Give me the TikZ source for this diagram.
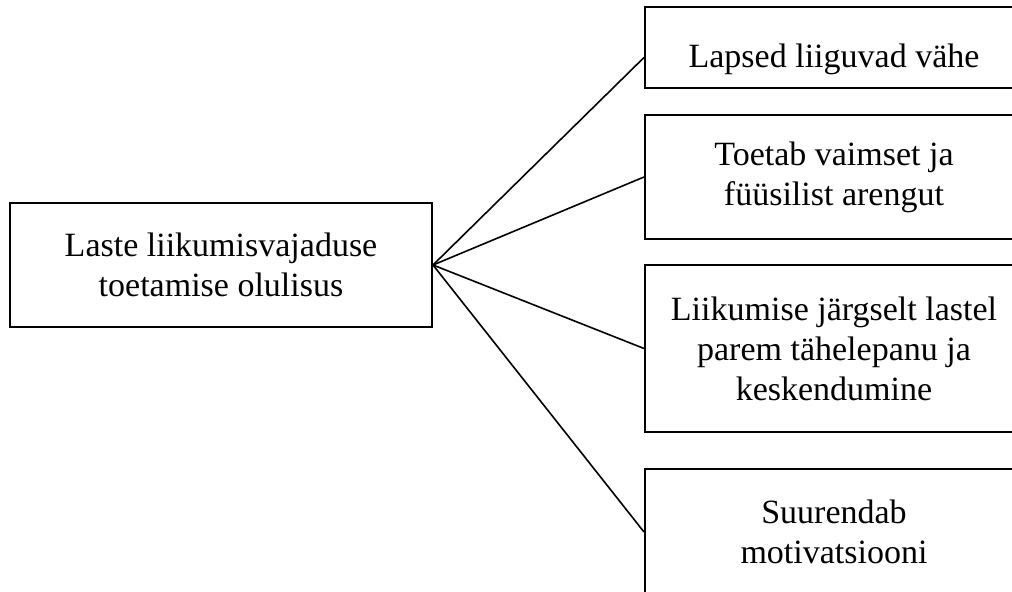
\documentclass[tikz,border=0pt]{standalone}
\usepackage{fontspec}
\setmainfont{Liberation Serif}
\usepackage{tikz}

\begin{document}
\begin{tikzpicture}[x=0.5pt, y=-0.5pt,
    box_node/.style={rectangle, draw, line width=1pt, inner sep=0pt, align=center,
        font=\fontsize{17pt}{20pt}\selectfont},
    link/.style={line width=0.8pt}]

    \useasboundingbox (0,0) rectangle (1012,592);
    \clip (0,0) rectangle (1012,592);

    \node[box_node, minimum width=211pt, minimum height=62pt] (main) at (221,265)
        {Laste liikumisvajaduse\\toetamise olulisus};
    \node[box_node, minimum width=189pt, minimum height=40.5pt,
        text height=24pt, text depth=4pt] (b1) at (834,47.5)
        {Lapsed liiguvad vähe};
    \node[box_node, minimum width=189pt, minimum height=62pt] (b2) at (834,177)
        {Toetab vaimset ja\\füüsilist arengut};
    \node[box_node, minimum width=189pt, minimum height=83.5pt] (b3) at (834,348.5)
        {Liikumise järgselt lastel\\parem tähelepanu ja\\keskendumine};
    \node[box_node, minimum width=189pt, minimum height=63pt] (b4) at (834,532)
        {Suurendab\\motivatsiooni};

    \draw[link] (main.east) -- ([yshift=-5pt]b1.west);
    \draw[link] (main.east) -- (b2.west);
    \draw[link] (main.east) -- (b3.west);
    \draw[link] (main.east) -- (b4.west);
\end{tikzpicture}
\end{document}
